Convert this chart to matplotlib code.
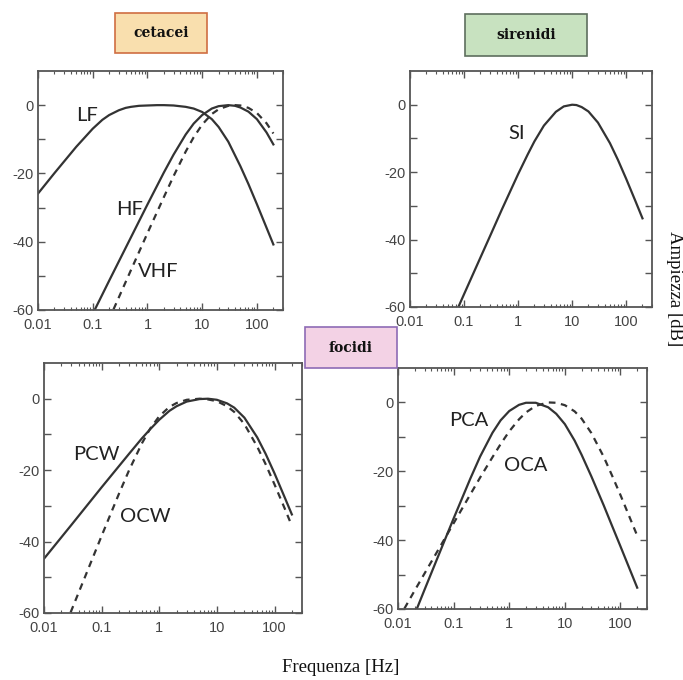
import matplotlib
matplotlib.use("Agg")
import matplotlib.pyplot as plt
from matplotlib.patches import Rectangle
from matplotlib.ticker import LogLocator, NullFormatter

# frequency (Hz) and amplitude (dB) read for each weighting curve
lf_freq = [0.01, 0.02, 0.05, 0.1, 0.15, 0.2, 0.3, 0.4, 0.5, 0.7, 1, 1.5, 2, 3, 5, 7, 10, 15, 20, 30, 50, 70,
           100, 150, 200]
lf_db = [-25.9, -19.9, -12.2, -6.9, -4.3, -2.9, -1.5, -0.8, -0.5, -0.2, -0.1, 0.0, 0.0, -0.1, -0.5, -1.0,
         -2.0, -4.1, -6.4, -10.7, -17.9, -23.1, -29.0, -35.9, -40.8]

hf_freq = [0.11, 0.2, 0.5, 1, 2, 3, 5, 7, 10, 15, 20, 30, 40, 50, 70, 100, 150, 200]
hf_db = [-59.8, -51.4, -38.7, -29.1, -19.7, -14.5, -8.6, -5.4, -2.9, -1.0, -0.3, 0.0, -0.2, -0.7, -1.9,
         -4.1, -8.0, -11.5]

vhf_freq = [0.24, 0.5, 1, 2, 3, 5, 7, 10, 15, 20, 30, 40, 50, 70, 100, 150, 200]
vhf_db = [-59.8, -48.3, -37.5, -26.9, -20.8, -13.6, -9.4, -5.7, -2.6, -1.2, -0.2, 0.0, -0.1, -0.8,
          -2.3, -5.3, -8.3]

si_freq = [0.08, 0.1, 0.2, 0.3, 0.5, 1, 1.5, 2, 3, 5, 7, 10, 12, 15, 20, 30, 50, 70, 100, 150, 200]
si_db = [-59.7, -56.2, -45.4, -39.1, -31.1, -20.6, -14.8, -10.9, -6.2, -2.1, -0.5, 0.0, -0.1, -0.7,
         -2.0, -5.3, -11.4, -16.3, -22.0, -28.8, -33.7]

pcw_freq = [0.01, 0.03, 0.1, 0.3, 0.5, 0.7, 1, 1.5, 2, 3, 5, 7, 10, 15, 20, 30, 50, 70, 100, 150, 200]
pcw_db = [-44.8, -35.3, -24.8, -15.4, -11.1, -8.5, -5.9, -3.4, -2.1, -0.8, -0.1, 0.0, -0.3, -1.3,
          -2.5, -5.3, -10.8, -15.4, -20.9, -27.6, -32.4]

ocw_freq = [0.029, 0.05, 0.1, 0.2, 0.3, 0.5, 0.7, 1, 1.5, 2, 3, 5, 7, 10, 15, 20, 30, 50, 70, 100, 150, 200]
ocw_db = [-59.8, -50.4, -38.4, -26.6, -20.0, -12.5, -8.3, -4.9, -2.3, -1.2, -0.3, 0.0, -0.2, -0.7,
          -2.1, -3.7, -7.1, -13.4, -18.3, -24.0, -30.7, -35.6]

pca_freq = [0.022, 0.03, 0.05, 0.1, 0.2, 0.3, 0.5, 0.7, 1, 1.5, 2, 3, 5, 7, 10, 15, 20, 30, 50, 70, 100, 200]
pca_db = [-59.8, -54.4, -45.6, -33.7, -22.1, -15.7, -8.8, -5.2, -2.5, -0.7, -0.1, -0.1, -1.4, -3.3,
          -6.3, -11.1, -15.2, -21.5, -29.9, -35.7, -41.8, -53.8]

oca_freq = [0.013, 0.02, 0.05, 0.1, 0.2, 0.3, 0.5, 0.7, 1, 1.5, 2, 3, 5, 7, 10, 15, 20, 30, 50, 70, 100, 150, 200]
oca_db = [-59.9, -54.6, -43.5, -35.1, -26.7, -21.8, -15.9, -12.1, -8.4, -4.9, -2.9, -1.0, 0.0, -0.1,
          -0.8, -2.6, -4.7, -8.9, -15.8, -21.1, -26.9, -33.8, -38.7]

x_ticks = [0.01, 0.1, 1, 10, 100]
x_labels = ["0.01", "0.1", "1", "10", "100"]
y_ticks = [-60, -50, -40, -30, -20, -10, 0]
y_labels = ["-60", "", "-40", "", "-20", "", "0"]

W, H = 683, 680
LINE = "#333333"
LABEL_FONT = ["Lato", "DejaVu Sans"]


def add_axes_px(fig, left, top, right, bottom):
    """Place an axes from pixel edges (origin top-left)."""
    return fig.add_axes([left / W, 1 - bottom / H, (right - left) / W, (bottom - top) / H])


def style_axes(ax):
    ax.set_xscale("log")
    ax.set_xlim(0.01, 300)
    ax.set_ylim(-60, 10)
    ax.set_xticks(x_ticks)
    ax.set_xticklabels(x_labels)
    ax.xaxis.set_minor_locator(LogLocator(base=10, subs=range(2, 10)))
    ax.xaxis.set_minor_formatter(NullFormatter())
    ax.set_yticks(y_ticks)
    ax.set_yticklabels(y_labels)
    ax.tick_params(which="both", direction="in", top=True, right=True, color="#555555",
                   labelcolor="#444444", labelsize=10.5)
    ax.tick_params(axis="x", which="major", pad=6)
    ax.tick_params(axis="y", which="major", pad=3)
    ax.tick_params(which="major", length=5, width=1)
    ax.tick_params(which="minor", length=2.5, width=0.8)
    for lab in ax.get_xticklabels() + ax.get_yticklabels():
        lab.set_family("Liberation Sans")
    for sp in ax.spines.values():
        sp.set_color("#555555")
        sp.set_linewidth(1.3)


def curve_label(ax, x, y, text):
    ax.text(x, y, text, fontsize=14.5, color="#222222", family=LABEL_FONT,
            ha="center", va="center")


def group_box(fig, left, top, right, bottom, text, face, edge):
    rect = Rectangle((left / W, 1 - bottom / H), (right - left) / W, (bottom - top) / H,
                     transform=fig.transFigure, facecolor=face, edgecolor=edge, linewidth=1.2)
    fig.add_artist(rect)
    fig.text((left + right) / 2 / W, 1 - (top + bottom) / 2 / H, text, ha="center", va="center",
             fontsize=10, fontweight="bold", family="DejaVu Serif", color="#111111")


fig = plt.figure(figsize=(W / 100, H / 100), dpi=100)

# cetacei
ax1 = add_axes_px(fig, 38, 71, 283, 310)
style_axes(ax1)
ax1.plot(lf_freq, lf_db, color=LINE, lw=1.6)
ax1.plot(hf_freq, hf_db, color=LINE, lw=1.6)
ax1.plot(vhf_freq, vhf_db, color=LINE, lw=1.6, linestyle=(0, (3, 2.5)))
curve_label(ax1, 0.08, -3, "LF")
curve_label(ax1, 0.48, -30.5, "HF")
curve_label(ax1, 1.6, -48.8, "VHF")

# sirenidi
ax2 = add_axes_px(fig, 410, 71, 652, 307)
style_axes(ax2)
ax2.plot(si_freq, si_db, color=LINE, lw=1.6)
curve_label(ax2, 0.95, -8.4, "SI")

# focidi in acqua
ax3 = add_axes_px(fig, 44, 363, 302, 613)
style_axes(ax3)
ax3.plot(pcw_freq, pcw_db, color=LINE, lw=1.6)
ax3.plot(ocw_freq, ocw_db, color=LINE, lw=1.6, linestyle=(0, (3, 2.5)))
curve_label(ax3, 0.08, -15.6, "PCW")
curve_label(ax3, 0.57, -33, "OCW")

# focidi in aria
ax4 = add_axes_px(fig, 398, 368, 647, 609)
style_axes(ax4)
ax4.plot(pca_freq, pca_db, color=LINE, lw=1.6)
ax4.plot(oca_freq, oca_db, color=LINE, lw=1.6, linestyle=(0, (3, 2.5)))
curve_label(ax4, 0.19, -5.3, "PCA")
curve_label(ax4, 1.95, -18.3, "OCA")

group_box(fig, 115, 13, 207, 53, "cetacei", "#F9DFAE", "#CF6E42")
group_box(fig, 465, 14, 587, 56, "sirenidi", "#C8E2C0", "#5E6E5E")
group_box(fig, 305, 327, 397, 368, "focidi", "#F3D2E5", "#8E6BB5")

fig.text(341 / W, 1 - 668 / H, "Frequenza [Hz]", ha="center", va="center",
         fontsize=13.5, family="Liberation Serif", color="#111111")
fig.text(675 / W, 1 - 289 / H, "Ampiezza [dB]", ha="center", va="center", rotation=270,
         fontsize=13.5, family="Liberation Serif", color="#111111")

fig.savefig("out.png", dpi=100)
